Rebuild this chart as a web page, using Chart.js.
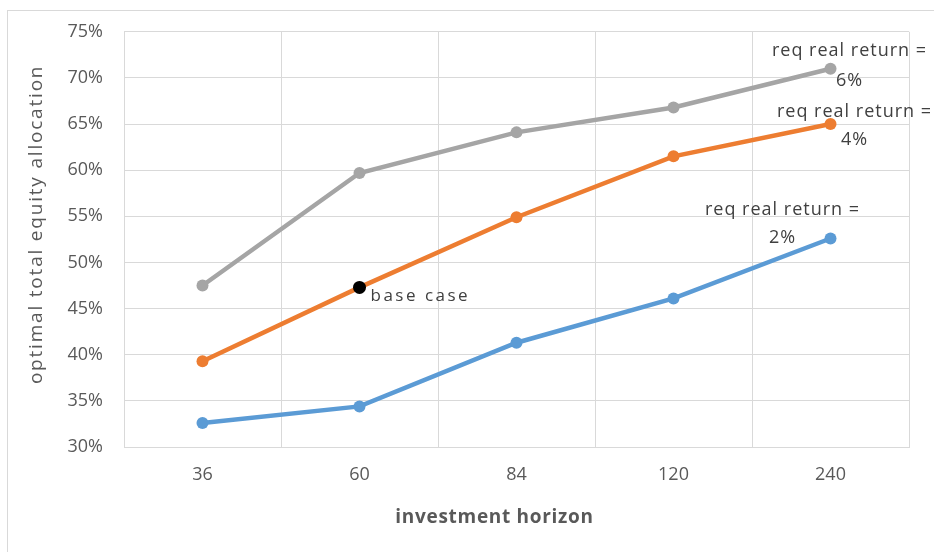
<!DOCTYPE html>
<html>
<head>
<meta charset="utf-8">
<script src="https://cdn.jsdelivr.net/npm/chart.js@4.4.1/dist/chart.umd.min.js"></script>
<style>
  html, body { margin: 0; padding: 0; background: #ffffff; overflow: hidden; }
  #wrap { position: relative; width: 934px; height: 552px; }
  #frame { position: absolute; left: 7px; top: 10px; width: 960px; height: 600px;
           border: 1px solid #d9d9d9; box-sizing: border-box; pointer-events: none; }
  canvas { position: absolute; left: 0; top: 0; }
</style>
</head>
<body>
<div id="wrap">
  <div id="frame"></div>
  <canvas id="chart" width="934" height="552"></canvas>
</div>
<script>
// Investment horizon (months) on the category axis
const horizons = ['36', '60', '84', '120', '240'];

// Optimal total equity allocation (%) for each required real return
const return6 = [47.5, 59.7, 64.1, 66.8, 71.0];
const return4 = [39.3, 47.3, 54.9, 61.5, 65.0];
const return2 = [32.6, 34.4, 41.3, 46.1, 52.6];

// Highlighted base case: 60-month horizon, 4% required real return
const baseCase = [null, 47.3, null, null, null];

// Y tick values
const yTicks = [30, 35, 40, 45, 50, 55, 60, 65, 70, 75];

const xTitle = 'investment horizon';
const yTitle = 'optimal total equity allocation';

const FONT = '"Open Sans", "DejaVu Sans", sans-serif';
const TEXT = '#595959';
const LABEL = '#404040';
const GRID = '#d9d9d9';

// Series end labels: dataset index, point index, lines, offsets from the point
const seriesLabels = [
  { ds: 0, idx: 4, lines: ['req real return =', '6%'], dx: 19, dy: [-18, 12] },
  { ds: 1, idx: 4, lines: ['req real return =', '4%'], dx: 24, dy: [-12, 16] },
  { ds: 2, idx: 4, lines: ['req real return =', '2%'], dx: -48, dy: [-29, -1] }
];

const annotations = {
  id: 'annotations',
  afterDatasetsDraw(chart) {
    const ctx = chart.ctx;
    ctx.save();
    ctx.fillStyle = LABEL;
    ctx.font = '18px ' + FONT;
    ctx.textBaseline = 'middle';
    ctx.textAlign = 'center';
    ctx.letterSpacing = '1px';
    seriesLabels.forEach(l => {
      const pt = chart.getDatasetMeta(l.ds).data[l.idx];
      l.lines.forEach((t, i) => ctx.fillText(t, pt.x + l.dx, pt.y + l.dy[i]));
    });
    // base case label
    const bp = chart.getDatasetMeta(3).data[1];
    ctx.font = '17px ' + FONT;
    ctx.textAlign = 'left';
    ctx.letterSpacing = '2.5px';
    ctx.fillText('base case', bp.x + 11, bp.y + 9);
    ctx.restore();
  },
  afterDraw(chart) {
    const ctx = chart.ctx;
    const a = chart.chartArea;
    ctx.save();
    ctx.fillStyle = TEXT;
    // x axis title
    ctx.font = 'bold 19px ' + FONT;
    ctx.letterSpacing = '0.7px';
    ctx.textAlign = 'center';
    ctx.textBaseline = 'middle';
    ctx.fillText(xTitle, a.left + (a.right - a.left) / 2 - 22, 518);
    // y axis title
    ctx.font = '19px ' + FONT;
    ctx.letterSpacing = '1.8px';
    ctx.translate(37, a.top + (a.bottom - a.top) / 2 - 15);
    ctx.rotate(-Math.PI / 2);
    ctx.fillText(yTitle, 0, 0);
    ctx.restore();
  }
};

function build() {
  new Chart(document.getElementById('chart'), {
    type: 'line',
    data: {
      labels: horizons,
      datasets: [
        { label: 'req real return = 6%', data: return6, borderColor: '#a5a5a5', backgroundColor: '#a5a5a5' },
        { label: 'req real return = 4%', data: return4, borderColor: '#ed7d31', backgroundColor: '#ed7d31' },
        { label: 'req real return = 2%', data: return2, borderColor: '#5b9bd5', backgroundColor: '#5b9bd5' },
        { label: 'base case', data: baseCase, borderColor: '#000000', backgroundColor: '#000000',
          showLine: false, pointRadius: 6.5, pointHoverRadius: 6.5, order: -1 }
      ].map(d => Object.assign({ borderWidth: 4.5, pointRadius: 6, pointBorderWidth: 0,
                                 pointHoverRadius: 6, tension: 0, fill: false }, d))
    },
    options: {
      responsive: false,
      animation: false,
      events: [],
      layout: { padding: { top: 29, right: 25, left: 0, bottom: 0 } },
      plugins: { legend: { display: false }, tooltip: { enabled: false } },
      scales: {
        x: {
          type: 'category',
          offset: true,
          grid: { offset: true, color: GRID, lineWidth: 1, drawTicks: false },
          border: { display: true, color: GRID, width: 1 },
          ticks: { color: TEXT, font: { family: FONT, size: 18 }, padding: 17, maxRotation: 0 },
          afterFit(scale) { scale.height = 105; }
        },
        y: {
          min: yTicks[0],
          max: yTicks[yTicks.length - 1],
          afterBuildTicks(scale) { scale.ticks = yTicks.map(v => ({ value: v })); },
          grid: { color: GRID, lineWidth: 1, drawTicks: false },
          border: { display: true, color: GRID, width: 1 },
          ticks: { color: TEXT, font: { family: FONT, size: 18 }, padding: 21,
                   callback: v => v + '%' },
          afterFit(scale) { scale.width = 124; }
        }
      }
    },
    plugins: [annotations]
  });
}

Promise.all([
  document.fonts.load('18px "Open Sans"'),
  document.fonts.load('bold 18px "Open Sans"')
]).then(build, build);
</script>
</body>
</html>
